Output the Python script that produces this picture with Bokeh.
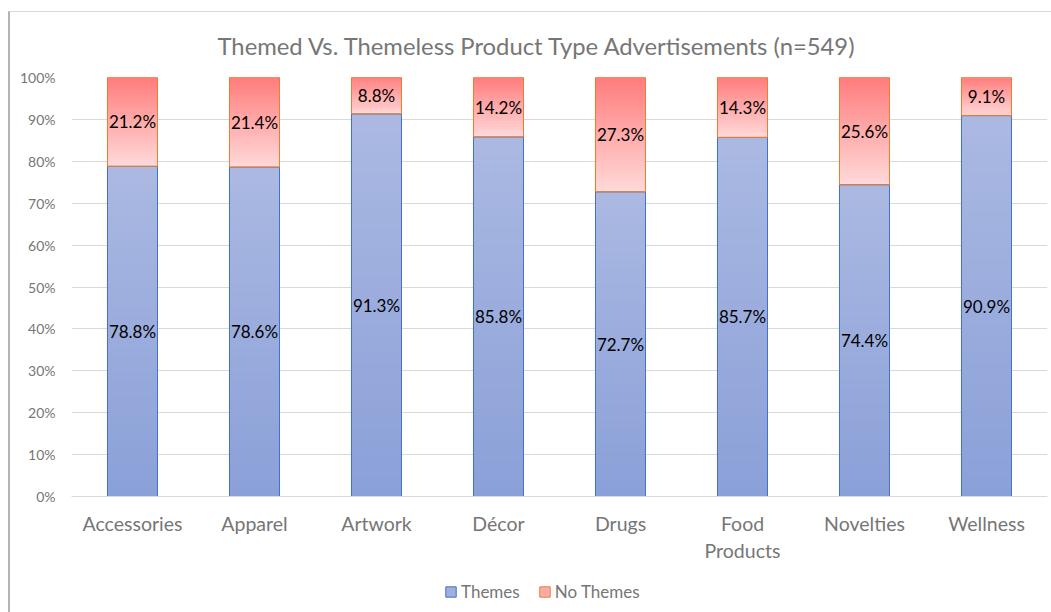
import numpy as np
from bokeh.plotting import figure
from bokeh.layouts import column
from bokeh.models import (ColumnDataSource, FactorRange, Legend, LegendItem,
                          PrintfTickFormatter, FixedTicker, Range1d)
from bokeh.core.properties import value
from bokeh.embed import file_html
from bokeh.resources import INLINE

categories = ["Accessories", "Apparel", "Artwork", "Décor", "Drugs",
              "Food\nProducts", "Novelties", "Wellness"]
themes = [78.8, 78.6, 91.3, 85.8, 72.7, 85.7, 74.4, 90.9]
no_themes = [21.2, 21.4, 8.8, 14.2, 27.3, 14.3, 25.6, 9.1]
y_ticks = [0, 10, 20, 30, 40, 50, 60, 70, 80, 90, 100]
series_names = ["Themes", "No Themes"]

FONT = "Lato"
GRAY = "#767676"
BLUE_LINE = "#4472c4"
RED_LINE = "#ed7d31"
BLUE_BOTTOM, BLUE_TOP = "#8aa0d8", "#abb9e2"
RED_BOTTOM, RED_TOP = "#ffd9d9", "#ff7c7c"
BAR_W = 0.41
N_STEPS = 40


def hex2rgb(h):
    h = h.lstrip("#")
    return [int(h[i:i + 2], 16) for i in (0, 2, 4)]


def mix(c1, c2, t):
    a, b = hex2rgb(c1), hex2rgb(c2)
    return "#%02x%02x%02x" % tuple(int(round(x + (y - x) * t)) for x, y in zip(a, b))


p = figure(x_range=FactorRange(*categories, range_padding=0),
           y_range=Range1d(0, 100),
           width=1041, height=553,
           output_backend="svg", toolbar_location=None,
           min_border_left=61, min_border_right=4,
           min_border_top=65, min_border_bottom=60)
p.outline_line_color = None
p.background_fill_color = "white"

p.title.text = "Themed Vs. Themeless Product Type Advertisements (n=549)"
p.title.align = "left"
p.title.offset = 146
p.title.text_font = FONT
p.title.text_font_size = "23.8px"
p.title.text_font_style = "normal"
p.title.text_color = GRAY
p.title.standoff = 35

# flat bars (base layer)
base = ColumnDataSource(dict(x=categories, th=themes, nt=no_themes,
                             top2=[a + b for a, b in zip(themes, no_themes)]))
p.vbar(x="x", bottom=0, top="th", width=BAR_W, source=base,
       fill_color=mix(BLUE_BOTTOM, BLUE_TOP, 0.5), line_color=BLUE_LINE)
p.vbar(x="x", bottom="th", top="top2", width=BAR_W, source=base,
       fill_color=mix(RED_BOTTOM, RED_TOP, 0.5), line_color=RED_LINE)

# gradient slices
gx, gb, gt, gc = [], [], [], []
for cat, th, nt in zip(categories, themes, no_themes):
    for lo, hi, cb, ct in ((0, th, BLUE_BOTTOM, BLUE_TOP), (th, th + nt, RED_BOTTOM, RED_TOP)):
        edges = np.linspace(lo, hi, N_STEPS + 1)
        for k in range(N_STEPS):
            gx.append(cat)
            gb.append(edges[k])
            gt.append(min(edges[k + 1] + (hi - lo) / N_STEPS * 0.3, hi))
            gc.append(mix(cb, ct, (k + 0.5) / N_STEPS))
p.vbar(x=gx, bottom=gb, top=gt, width=BAR_W, fill_color=gc, line_color=None)

# outlines on top
p.vbar(x="x", bottom=0, top="th", width=BAR_W, source=base,
       fill_color=None, line_color=BLUE_LINE, line_width=1)
p.vbar(x="x", bottom="th", top="top2", width=BAR_W, source=base,
       fill_color=None, line_color=RED_LINE, line_width=1)

# data labels
lab = ColumnDataSource(dict(
    x=categories + categories,
    y=[t / 2 for t in themes] + [t + n / 2 for t, n in zip(themes, no_themes)],
    txt=["%.1f%%" % v for v in themes] + ["%.1f%%" % v for v in no_themes]))
p.text(x="x", y="y", text="txt", source=lab, text_align="center",
       text_baseline="middle", text_font=value(FONT), text_font_size="17px",
       text_color="#000000")

# axes
p.yaxis.ticker = FixedTicker(ticks=y_ticks)
p.yaxis.formatter = PrintfTickFormatter(format="%d%%")
p.yaxis.axis_line_color = None
p.yaxis.major_tick_line_color = None
p.yaxis.minor_tick_line_color = None
p.yaxis.major_label_text_font = FONT
p.yaxis.major_label_text_font_size = "14px"
p.yaxis.major_label_text_color = GRAY
p.yaxis.major_label_standoff = 10

p.xaxis.axis_line_color = "#d9d9d9"
p.xaxis.major_tick_line_color = None
p.xaxis.minor_tick_line_color = None
p.xaxis.major_label_text_font = FONT
p.xaxis.major_label_text_font_size = "19.5px"
p.xaxis.major_label_text_color = GRAY
p.xaxis.major_label_standoff = 9

p.xgrid.grid_line_color = None
p.ygrid.grid_line_color = "#d9d9d9"
p.ygrid.grid_line_width = 1

# legend strip below the chart (its bars are the same data, kept out of view)
lg = figure(width=1041, height=48, x_range=FactorRange(*categories, range_padding=0),
            y_range=Range1d(200, 300),
            output_backend="svg", toolbar_location=None,
            min_border_left=0, min_border_right=0, min_border_top=0, min_border_bottom=0)
lg.axis.visible = False
lg.grid.visible = False
lg.outline_line_color = None
r_th = lg.vbar(x="x", bottom=0, top="th", width=BAR_W, source=base,
               fill_color=mix(BLUE_BOTTOM, BLUE_TOP, 0.6), line_color=BLUE_LINE)
r_nt = lg.vbar(x="x", bottom="th", top="top2", width=BAR_W, source=base,
               fill_color=mix(RED_BOTTOM, RED_TOP, 0.5), line_color=RED_LINE)
legend = Legend(items=[LegendItem(label=series_names[0], renderers=[r_th]),
                       LegendItem(label=series_names[1], renderers=[r_nt])],
                orientation="horizontal", location=(373, 11),
                label_text_font=FONT, label_text_font_size="17px",
                label_text_color=GRAY, glyph_width=13, glyph_height=13,
                spacing=18, label_standoff=4, border_line_color=None,
                padding=0, margin=0, background_fill_alpha=0)
lg.add_layout(legend, "center")

page = column(p, lg, spacing=0)
page.styles = {"margin-left": "8px", "margin-top": "11px",
               "border-left": "2px solid #b4b4b4", "border-top": "1px solid #d9d9d9"}

open("out.html", "w").write(file_html(page, INLINE))
